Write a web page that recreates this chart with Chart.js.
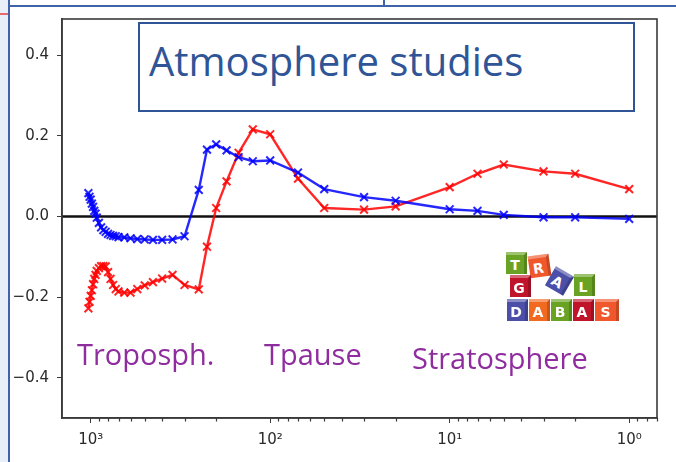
<!DOCTYPE html>
<html>
<head>
<meta charset="utf-8">
<script src="https://cdn.jsdelivr.net/npm/chart.js@4/dist/chart.umd.min.js"></script>
<style>
  html, body { margin: 0; padding: 0; background: #fff; }
  #page { position: relative; width: 676px; height: 462px; overflow: hidden; background: #fff; }
  #wrap { position: absolute; left: 0; top: 0; width: 676px; height: 462px; }
  #wrap canvas { filter: blur(0.7px); }
  .band { position: absolute; left: 0; top: 0; width: 8px; height: 462px; background: #e9eff9; }
  .vline { position: absolute; left: 8px; top: 0; width: 2px; height: 462px; background: #3f62a8; }
  .hline { position: absolute; left: 8px; top: 5px; width: 668px; height: 2px; background: #3f62a8; }
  .tick-top { position: absolute; left: 383px; top: 0; width: 2px; height: 6px; background: #3f62a8; }
  .redmark { position: absolute; left: 0; top: 13px; width: 8px; height: 2px; background: #e86a6a; }
  .titlebox { position: absolute; left: 138px; top: 22px; width: 493px; height: 86px; border: 2px solid #2f5597; background: #fff; }
  .titlebox span { position: absolute; left: 9px; top: 9px; font: 40px "Open Sans", sans-serif; color: #2f5597; white-space: nowrap; }
  .lbl { position: absolute; font: 29px "Open Sans", sans-serif; color: #8f2d9f; white-space: nowrap; }
  .blk { position: absolute; width: 21px; height: 22px; color: #fff; font: bold 14px "DejaVu Sans", sans-serif; text-align: center; line-height: 20px; box-sizing: border-box; border-top: 3px solid rgba(255,255,255,0.35); border-right: 3px solid rgba(0,0,0,0.18); }
</style>
</head>
<body>
<div id="page">
  <div id="wrap"><canvas id="c" width="676" height="462"></canvas></div>
  <div class="band"></div>
  <div class="vline"></div>
  <div class="hline"></div>
  <div class="tick-top"></div>
  <div class="redmark"></div>
  <div class="titlebox"><span>Atmosphere studies</span></div>
  <div class="lbl" style="left:77px; top:334px;">Troposph.</div>
  <div class="lbl" style="left:264px; top:334px;">Tpause</div>
  <div class="lbl" style="left:412px; top:338px;">Stratosphere</div>
  <div class="blk" style="left:506px; top:252px; background:#6aa324;">T</div>
  <div class="blk" style="left:529px; top:255px; background:#f0582c; transform:rotate(-8deg);">R</div>
  <div class="blk" style="left:549px; top:270px; background:#4b4fa8; transform:rotate(30deg);">A</div>
  <div class="blk" style="left:574px; top:274px; background:#6aa324;">L</div>
  <div class="blk" style="left:510px; top:275px; background:#c0142b;">G</div>
  <div class="blk" style="left:507px; top:299px; background:#4b4fa8;">D</div>
  <div class="blk" style="left:529px; top:299px; background:#f26a1f;">A</div>
  <div class="blk" style="left:551px; top:299px; background:#6aa324;">B</div>
  <div class="blk" style="left:573px; top:299px; background:#c0142b;">A</div>
  <div class="blk" style="left:595px; top:299px; width:24px; background:#f0582c;">S</div>
</div>
<script>
// Pressure levels (hPa)
const pressure = [1030, 1015, 1000, 985, 970, 955, 940, 925, 900, 875, 850, 825, 800, 775, 750, 725, 700,
  650, 600, 550, 500, 450, 400, 350, 300, 250, 225, 200, 175, 150, 125, 100, 70, 50, 30, 20, 10, 7, 5, 3, 2, 1];

// Blue profile
const blueProfile = [0.058, 0.049, 0.042, 0.032, 0.024, 0.014, 0.007, -0.003, -0.016, -0.027, -0.034, -0.038,
  -0.043, -0.046, -0.048, -0.049, -0.051, -0.052, -0.054, -0.056, -0.057, -0.058, -0.058, -0.057, -0.049,
  0.066, 0.166, 0.179, 0.164, 0.147, 0.137, 0.139, 0.109, 0.068, 0.048, 0.039, 0.018, 0.014, 0.004, -0.002, -0.002, -0.006];

// Red profile
const redProfile = [-0.228, -0.212, -0.197, -0.183, -0.168, -0.155, -0.145, -0.135, -0.128, -0.123, -0.123, -0.124,
  -0.138, -0.155, -0.170, -0.180, -0.186, -0.189, -0.189, -0.180, -0.171, -0.163, -0.154, -0.145, -0.170,
  -0.181, -0.075, 0.021, 0.087, 0.158, 0.216, 0.204, 0.094, 0.021, 0.017, 0.025, 0.073, 0.106, 0.129, 0.112, 0.106, 0.068];

// Axis ticks
const xMajorTicks = [1000, 100, 10, 1];
const xMinorTicks = [900, 800, 700, 600, 500, 400, 300, 200, 90, 80, 70, 60, 50, 40, 30, 20,
  9, 8, 7, 6, 5, 4, 3, 2, 0.9, 0.8, 0.7];
const xTickLabels = { 1000: '10³', 100: '10²', 10: '10¹', 1: '10⁰' };
const yTicks = [-0.4, -0.2, 0.0, 0.2, 0.4];

const X_MIN = 0.7, X_MAX = 1445, Y_MIN = -0.5, Y_MAX = 0.49;
const AXIS_COLOR = '#3a3a3a';

const toPoints = vals => pressure.map((p, i) => ({ x: p, y: vals[i] }));

// Frame, zero line and minor x ticks
const framePlugin = {
  id: 'frame',
  beforeDatasetsDraw(chart) {
    const { ctx, chartArea: a, scales: { y } } = chart;
    const y0 = y.getPixelForValue(0);
    ctx.save();
    ctx.strokeStyle = '#111';
    ctx.lineWidth = 2.4;
    ctx.beginPath();
    ctx.moveTo(a.left, y0);
    ctx.lineTo(a.right, y0);
    ctx.stroke();
    ctx.restore();
  },
  afterDraw(chart) {
    const { ctx, chartArea: a, scales: { x } } = chart;
    ctx.save();
    ctx.strokeStyle = AXIS_COLOR;
    ctx.lineWidth = 1.6;
    ctx.strokeRect(a.left, a.top, a.right - a.left, a.bottom - a.top);
    ctx.lineWidth = 1.2;
    ctx.beginPath();
    xMinorTicks.forEach(v => {
      const px = Math.round(x.getPixelForValue(v)) + 0.5;
      ctx.moveTo(px, a.bottom);
      ctx.lineTo(px, a.bottom + 3.5);
    });
    ctx.stroke();
    ctx.restore();
  }
};

const seriesStyle = color => ({
  borderColor: color,
  backgroundColor: color,
  borderWidth: 2.4,
  pointStyle: 'crossRot',
  pointRadius: 5.5,
  pointBorderWidth: 2,
  tension: 0
});

new Chart(document.getElementById('c'), {
  type: 'line',
  data: {
    datasets: [
      Object.assign({ data: toPoints(blueProfile) }, seriesStyle('rgba(0,0,255,0.85)')),
      Object.assign({ data: toPoints(redProfile) }, seriesStyle('rgba(255,0,0,0.85)'))
    ]
  },
  options: {
    responsive: false,
    animation: false,
    events: [],
    layout: { padding: { top: 19, right: 19, left: 0, bottom: 0 } },
    plugins: { legend: { display: false }, tooltip: { enabled: false } },
    scales: {
      x: {
        type: 'logarithmic',
        reverse: true,
        min: X_MIN,
        max: X_MAX,
        afterBuildTicks(scale) {
          scale.ticks = xMajorTicks.map(v => ({ value: v }));
        },
        afterFit(scale) { scale.height = 44; },
        border: { display: true, color: AXIS_COLOR, width: 1.6 },
        grid: { display: true, drawOnChartArea: false, drawTicks: true, tickLength: 5, tickColor: AXIS_COLOR, color: AXIS_COLOR },
        ticks: {
          autoSkip: false,
          maxRotation: 0,
          padding: 8,
          color: '#2a2a2a',
          font: { family: 'DejaVu Sans', size: 15 },
          callback: v => xTickLabels[v] || ''
        }
      },
      y: {
        type: 'linear',
        min: Y_MIN,
        max: Y_MAX,
        afterBuildTicks(scale) {
          scale.ticks = yTicks.map(v => ({ value: v }));
        },
        afterFit(scale) { scale.width = 62; },
        border: { display: true, color: AXIS_COLOR, width: 1.6 },
        grid: { display: true, drawOnChartArea: false, drawTicks: true, tickLength: 5, tickColor: AXIS_COLOR, color: AXIS_COLOR },
        ticks: {
          autoSkip: false,
          padding: 8,
          color: '#2a2a2a',
          font: { family: 'DejaVu Sans', size: 15 },
          callback: v => v.toFixed(1).replace('-', '\u2212')
        }
      }
    }
  },
  plugins: [framePlugin]
});
</script>
</body>
</html>
